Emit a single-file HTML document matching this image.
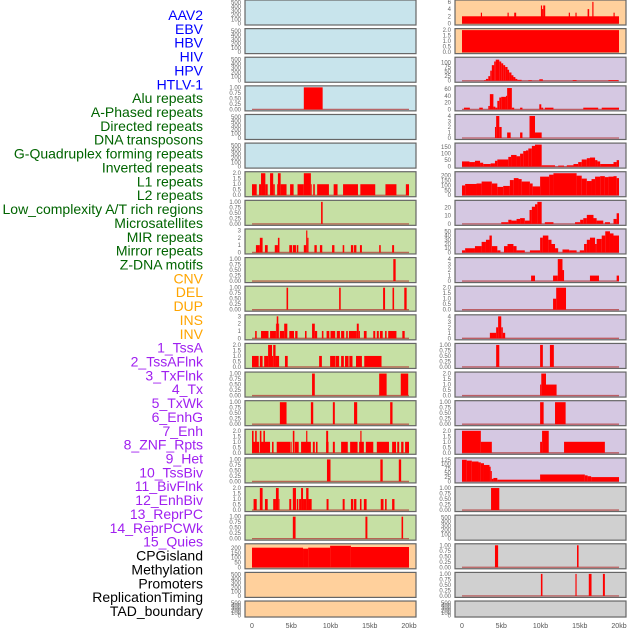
<!DOCTYPE html>
<html><head><meta charset="utf-8"><style>
body{margin:0;background:#fff;width:630px;height:630px;overflow:hidden;font-family:"Liberation Sans",sans-serif}
svg{display:block}
</style></head><body>
<svg id="chart" width="630" height="630" viewBox="0 0 630 630" xmlns="http://www.w3.org/2000/svg"></svg>
<script>
const trackLabels=["AAV2","EBV","HBV","HIV","HPV","HTLV-1","Alu repeats","A-Phased repeats","Directed repeats","DNA transposons","G-Quadruplex forming repeats","Inverted repeats","L1 repeats","L2 repeats","Low_complexity A/T rich regions","Microsatellites","MIR repeats","Mirror repeats","Z-DNA motifs","CNV","DEL","DUP","INS","INV","1_TssA","2_TssAFlnk","3_TxFlnk","4_Tx","5_TxWk","6_EnhG","7_Enh","8_ZNF_Rpts","9_Het","10_TssBiv","11_BivFlnk","12_EnhBiv","13_ReprPC","14_ReprPCWk","15_Quies","CPGisland","Methylation","Promoters","ReplicationTiming","TAD_boundary"];
const xTicks=[0,5,10,15,20];
const xTickLabels=["0","5kb","10kb","15kb","20kb"];
const t500=[0,100,200,300,400,500];
const t1=[0,0.25,0.5,0.75,1];
const t2=[0,0.5,1,1.5,2];
const t3=[0,1,2,3];
const t4=[0,1,2,3,4];
// bars: [startKb, endKb, value]
const L03=[[6.6,9.0,1]];
const L06=[[0,0.6,1],[0.9,1.15,1],[1.15,1.7,2],[1.7,2.0,1],[2.3,2.7,2],[2.7,2.9,1],[3.2,3.3,1],[3.3,3.65,2],[3.65,4.4,1],[4.85,5.3,1],[5.8,6.6,1],[6.6,7.5,2],[7.5,7.6,1],[7.8,8.0,1],[8.3,9.8,1],[10.4,10.9,1],[11.6,13.5,1],[13.8,15.7,1],[17.0,18.4,1],[19.6,20,1]];
const L07=[[8.8,9.0,1]];
const L08=[[0.5,1.0,1],[1.0,1.35,2],[1.65,2.0,1],[2.9,3.3,1],[3.3,3.5,2],[4.75,5.1,1],[5.2,5.6,1],[5.7,5.9,1],[6.6,6.9,1],[6.9,7.05,3],[7.05,7.2,2],[7.95,8.25,1],[8.65,8.95,1],[10.2,10.5,1],[11.55,11.75,1],[12.6,12.9,1],[13.0,13.3,1],[13.75,14.0,1],[16.2,16.4,1],[17.85,18.1,1]];
const L09=[[18.0,18.3,1]];
const L10=[[4.4,4.6,1],[11.1,11.3,1],[16.7,16.95,1],[17.9,18.1,1],[19.4,19.7,1]];
const L11=[[0.4,0.6,1],[1.15,2.1,1],[2.3,3.05,1],[3.05,3.15,2],[3.15,3.35,3],[3.35,3.45,2],[3.55,4.1,1],[4.1,4.5,2],[4.75,5.35,1],[5.5,5.8,1],[6.75,6.95,1],[7.65,8.0,2],[8.0,8.3,1],[8.9,9.1,1],[9.5,9.85,1],[10.0,10.6,1],[10.8,11.2,1],[11.35,11.75,1],[12.0,12.2,1],[12.35,13.35,1],[13.35,13.6,2],[13.6,13.75,1],[14.25,14.6,1],[15.45,15.7,1],[15.9,16.15,1],[16.3,16.65,1],[16.95,17.15,1],[17.35,18.4,1],[19.15,19.45,1]];
const L12=[[0,0.85,1],[1.0,1.35,1],[1.55,2.05,1],[2.05,2.55,2],[2.55,2.7,1],[2.7,3.0,2],[3.0,3.45,1],[4.2,4.55,1],[8.55,8.9,1],[9.95,10.6,1],[10.65,11.1,1],[11.35,11.7,1],[11.85,12.3,1],[12.4,12.8,1],[13.25,14.0,1],[14.3,16.5,1]];
const L13=[[7.65,8.0,1],[16.2,17.15,1],[18.95,19.9,1]];
const L14=[[3.55,4.4,1],[7.5,7.8,1],[10.3,10.55,1],[13.0,13.4,1],[17.6,17.9,1]];
const L15=[[0,0.9,1],[1.0,2.3,1],[2.55,2.75,1],[3.15,4.85,1],[4.9,5.05,1],[5.45,5.95,1],[6.25,7.5,1],[7.75,8.0,1],[8.15,8.35,1],[9.45,9.75,1],[10.3,10.55,1],[11.35,12.2,1],[12.5,13.45,1],[13.65,14.25,1],[14.5,15.45,1],[15.9,17.45,1],[17.85,18.35,1],[18.5,18.75,1],[19.0,19.3,1],[19.5,20,1],[0,0.2,2],[0.4,0.6,2],[1.0,1.2,2],[1.45,1.65,2],[5.2,5.4,2],[6.9,7.05,2],[9.45,9.7,2],[13.8,13.95,2]];
const L16=[[9.55,10.0,1],[16.35,16.65,1],[18.7,19.0,1]];
const L17=[[0.2,0.6,1],[1.0,1.35,2],[1.65,2.0,1],[2.7,3.05,1],[3.05,3.4,2],[3.4,3.5,1],[4.75,5.0,1],[5.2,5.6,2],[5.7,5.9,1],[6.0,6.25,1],[6.25,6.5,2],[6.5,6.9,1],[6.9,7.2,2],[7.2,7.6,1],[9.5,9.75,1],[11.55,11.8,1],[12.6,12.9,1],[13.0,13.3,1],[13.75,13.95,1],[14.25,14.6,1],[16.4,16.75,1],[16.95,17.15,1],[17.85,18.15,1]];
const L18=[[5.2,5.55,1],[14.45,14.7,1],[19.05,19.25,1]];
const L19=[[0,6.5,205],[6.5,7.15,195],[7.15,9.95,205],[9.95,12.6,225],[12.6,20,212]];
const R00=[[0,20,2],[2.4,2.55,3],[5.8,5.95,3],[6.65,6.9,3],[10.05,10.2,5],[10.2,10.35,4],[10.35,10.6,5],[13.6,13.75,3],[14.45,14.6,3],[16.0,16.2,4],[16.6,16.75,6],[19.3,19.45,3]];
const R01=[[0,20,2]];
const R02=[[2.8,3.05,3],[3.05,3.35,10],[3.35,3.6,25],[3.6,3.8,55],[3.8,4.1,85],[4.1,4.3,105],[4.3,4.75,115],[4.75,5.0,105],[5.0,5.25,95],[5.25,5.5,85],[5.5,5.8,75],[5.8,6.0,60],[6.0,6.3,45],[6.3,6.55,30],[6.55,6.8,20],[6.8,7.05,10],[7.05,7.6,5],[8.45,8.9,3],[9.85,10.3,8],[14.1,14.6,4],[18.65,19.9,4]];
const R03=[[0.25,1.0,5],[2.2,2.65,5],[3.35,3.55,10],[3.55,4.0,45],[4.0,4.25,8],[4.25,4.5,5],[4.5,4.75,25],[4.75,5.0,35],[5.0,5.6,37],[5.6,5.75,40],[5.75,6.35,63],[6.35,6.65,5],[7.4,7.7,5],[9.85,10.1,15],[10.1,10.35,5],[10.55,11.65,5],[15.45,17.35,5],[17.8,20,5]];
const R04=[[4.2,4.35,2],[4.35,4.75,4],[4.75,5.05,2],[5.75,6.2,1],[7.4,7.7,1],[8.6,9.3,4],[9.3,10.15,1]];
const R05=[[0,0.95,40],[0.95,1.65,35],[1.65,2.3,45],[2.3,2.7,30],[2.7,3.65,20],[3.65,4.2,25],[4.2,4.5,45],[4.5,5.9,55],[5.9,6.25,75],[6.25,6.95,90],[6.95,7.4,80],[7.4,7.8,100],[7.8,8.15,120],[8.15,8.45,125],[8.45,8.9,140],[8.9,9.3,160],[9.3,10.15,170],[10.15,11.85,10],[12.25,13.0,8],[13.35,14.2,10],[14.2,14.8,20],[14.8,15.25,35],[15.25,15.9,55],[15.9,16.3,65],[16.3,16.95,70],[16.95,17.25,50],[17.25,17.6,40],[17.6,19.3,20],[19.3,19.7,35],[19.7,20,50]];
const R06=[[0,0.4,100],[0.4,1.85,115],[1.85,2.5,120],[2.5,3.8,140],[3.8,4.5,120],[4.5,5.25,85],[5.25,6.1,95],[6.1,6.6,155],[6.6,7.2,175],[7.2,7.6,165],[7.6,8.65,140],[8.65,9.0,120],[9.0,9.95,90],[9.95,11.1,190],[11.1,11.65,210],[11.65,14.6,225],[14.6,15.25,200],[15.25,15.9,170],[15.9,16.5,145],[16.5,16.95,165],[16.95,17.6,190],[17.6,18.2,195],[18.2,18.65,185],[18.65,19.3,190],[19.3,19.7,195],[19.7,20,175]];
const R07=[[5.0,5.9,2],[5.9,6.3,5],[6.3,6.95,4],[6.95,7.4,6],[7.4,8.0,7],[8.0,8.6,4],[8.6,8.9,17],[8.9,9.3,21],[9.3,9.6,24],[9.6,10.15,27],[10.55,11.65,2],[14.4,15.05,2],[15.05,15.45,5],[15.45,15.9,7],[15.9,16.75,11],[16.75,17.15,7],[17.15,18.0,4],[18.2,18.85,2],[19.3,19.7,6],[19.7,20,13]];
const R08=[[0,0.4,5],[0.4,1.65,10],[1.65,2.5,15],[2.5,3.05,25],[3.05,3.5,30],[3.5,3.8,40],[3.8,4.5,15],[4.5,4.9,5],[5.35,5.8,15],[5.8,6.55,20],[6.55,6.95,15],[6.95,8.0,5],[8.65,9.95,5],[9.95,10.3,35],[10.3,11.0,40],[11.0,11.4,30],[11.4,11.85,20],[11.85,12.25,10],[12.8,13.65,7],[13.65,14.6,5],[15.0,15.55,5],[15.55,15.9,20],[15.9,16.3,30],[16.3,16.95,35],[16.95,17.15,20],[17.15,17.8,32],[17.8,18.25,40],[18.25,18.85,50],[18.85,19.3,45],[19.3,20,40]];
const R09=[[8.8,9.3,1],[11.6,12.2,1],[12.2,12.8,4],[12.8,13.0,2],[16.3,17.45,1],[19.7,20,1]];
const R10=[[11.6,12.0,1],[12.0,13.25,2]];
const R11=[[3.55,4.35,1],[4.35,4.6,2],[4.6,5.0,4],[5.0,5.2,2],[5.2,5.5,1]];
const R12=[[4.35,4.75,1],[9.95,10.3,1],[11.2,11.7,1]];
const R13=[[9.95,10.1,1],[10.1,10.7,2],[10.7,12.05,1]];
const R14=[[9.95,10.4,1],[11.85,13.2,1]];
const R15=[[0,2.4,2],[2.4,3.8,1],[9.95,10.2,1],[10.2,11.05,2],[13.0,18.2,1]];
const R16=[[0,0.6,125],[0.6,1.25,120],[1.25,2.1,115],[2.1,2.4,110],[2.4,2.8,105],[2.8,3.5,95],[3.5,3.65,85],[3.65,3.8,60],[3.8,4.0,15],[4.0,4.5,20],[4.5,9.95,10],[9.95,15.65,40],[15.65,16.0,35],[16.0,16.45,30],[16.45,20,25]];
const R17=[[3.7,4.75,1]];
const R19=[[4.2,4.6,1],[14.65,14.85,1]];
const R20=[[10.05,10.25,1],[14.45,14.6,1],[16.15,16.5,1],[17.95,18.2,1]];

const BLUE="#c8e4ec",GREEN="#c6e0a4",ORANGE="#ffd09c",PURPLE="#d5c8e2",GREY="#d0d0d0";
function P(bars,ticks,ymax,bg,tl){return {bars,ticks,ymax,bg,tl};}
const leftPanels=[P(null,t500,520,BLUE),P(null,t500,520,BLUE),P(null,t500,520,BLUE),P(L03,t1,1,BLUE),P(null,t500,520,BLUE),P(null,t500,520,BLUE),
P(L06,t2,2,GREEN),P(L07,t1,1,GREEN),P(L08,t3,3,GREEN),P(L09,t1,1,GREEN),P(L10,t1,1,GREEN),P(L11,t3,3,GREEN),P(L12,t2,2,GREEN),P(L13,t1,1,GREEN),P(L14,t1,1,GREEN),P(L15,t2,2,GREEN),P(L16,t1,1,GREEN),P(L17,t2,2,GREEN),P(L18,t1,1,GREEN),
P(L19,[0,50,100,150,200],230,ORANGE),P(null,t500,520,ORANGE),P(null,t500,520,ORANGE)];
const rightPanels=[P(R00,[0,2,4,6],6.1,ORANGE),P(R01,t2,2,ORANGE),P(R02,[0,25,50,75,100],120,PURPLE),P(R03,[0,20,40,60],65,PURPLE),P(R04,t4,4,PURPLE),P(R05,[0,50,100,150],170,PURPLE),P(R06,[0,50,100,150,200],225,PURPLE),P(R07,[0,10,20],27,PURPLE),P(R08,[0,10,20,30,40,50],52,PURPLE),P(R09,t4,4,PURPLE),P(R10,t2,2,PURPLE),P(R11,t4,4,PURPLE),P(R12,t1,1,PURPLE),P(R13,t2,2,PURPLE),P(R14,t1,1,PURPLE),P(R15,t2,2,PURPLE),P(R16,[0,25,50,75,100,125],127,PURPLE),
P(R17,t1,1,GREY),P(null,t500,520,GREY),P(R19,t1,1,GREY),P(R20,t1,1,GREY),P(null,t500,520,GREY)];

const NS="http://www.w3.org/2000/svg";
const svg=document.getElementById('chart');
function mk(tag,attrs,parent){const e=document.createElementNS(NS,tag);for(const k in attrs)e.setAttribute(k,attrs[k]);(parent||svg).appendChild(e);return e;}
function fmt(ticks,v){const max=ticks[ticks.length-1];if(max===1)return v.toFixed(2);if(max===2)return v.toFixed(1);return String(v);}

// labels
trackLabels.forEach((t,i)=>{
  let c="#0000ff"; if(i>=6)c="#006400"; if(i>=19)c="#ffa500"; if(i>=24)c="#a020f0"; if(i>=39)c="#000000";
  const e=mk('text',{x:203,y:20+i*13.86,'text-anchor':'end','font-size':'14',fill:c});
  
  
  e.textContent=t;
});

function drawCol(panels,x0,colName){
  const pxPerKb=7.85, dataX0=x0+7;
  const xs=kb=>dataX0+kb*pxPerKb;
  panels.forEach((p,i)=>{
    const top=i*28.62, h=(i===21)?16:25, bottom=top+h;
    const g=mk('g',{});
    
    
    mk('rect',{x:x0,y:top,width:171,height:h,fill:p.bg,stroke:'#666',"stroke-width":1.2},g);
    const ys=v=>bottom-1.5-v/p.ymax*(h-3);
    p.ticks.forEach(v=>{
      const t=mk('text',{x:x0-4,y:ys(v)+2,'text-anchor':'end','font-size':'6',fill:'#666'},g);
      
      
      t.textContent=fmt(p.ticks,v);
    });
    if(p.bars){
      const bl=mk('line',{x1:xs(0),x2:xs(20),y1:ys(0),y2:ys(0),stroke:'#b03030','stroke-width':1.3,'stroke-opacity':0.7},g);
      
      
      p.bars.forEach(b=>{
        const r=mk('rect',{x:xs(b[0]),y:ys(b[2]),width:Math.max(0.8,xs(b[1])-xs(b[0])),height:ys(0)-ys(b[2]),fill:'#ff0000'},g);
        
        
      });
    }
  });
  xTicks.forEach((v,j)=>{
    const t=mk('text',{x:xs(v),y:628,'text-anchor':'middle','font-size':'7',fill:'#555'});
    
    
    t.textContent=xTickLabels[j];
  });
}
drawCol(leftPanels,245,'left');
drawCol(rightPanels,455,'right');
</script>
</body></html>
